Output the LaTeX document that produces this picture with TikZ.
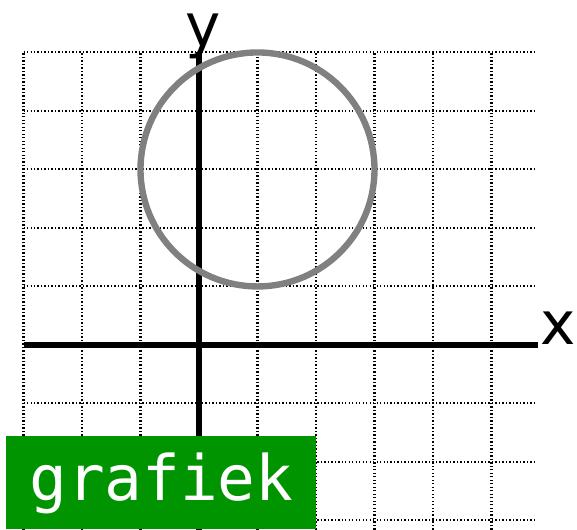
\documentclass[tikz,border=0pt]{standalone}
\usepackage{fontspec}
\usepackage{xcolor}
\usepackage{tikz}
\newfontfamily\axisfont{DejaVu Sans}
\newfontfamily\tagfont{DejaVu Sans Mono}
\definecolor{ringgray}{HTML}{808080}
\definecolor{taggreen}{HTML}{009400}

\begin{document}
\begin{tikzpicture}[
  gridline/.style={line width=1pt,dash pattern=on 0.7pt off 1pt,draw=black},
  axis/.style={line width=2.6pt,draw=black},
  ring/.style={line width=3.1pt,draw=ringgray},
  axislabel/.style={font=\axisfont\fontsize{29}{29}\selectfont,inner sep=0pt,text=black},
  tag/.style={fill=taggreen,text=white,font=\tagfont\fontsize{30.5}{30.5}\selectfont,
    minimum width=5.3cm,minimum height=1.59cm,inner sep=0pt}
]
\useasboundingbox (-3.402,-3.162) rectangle (6.462,5.897);
% grid
\foreach \k in {-3,...,5}
  \draw[gridline] (-3,\k) -- (5.75,\k);
\foreach \k in {-3,...,5}
  \draw[gridline] (\k,-3.162) -- (\k,5);
% axes
\coordinate (origin) at (0,0);
\coordinate (xstart) at (-3,0);
\coordinate (xend) at (5.8,0);
\coordinate (ystart) at (0,-3.162);
\coordinate (yend) at (0,5);
\draw[axis] (xstart) -- (xend);
\draw[axis] (ystart) -- (yend);
\node[axislabel,anchor=base west] (xlabel) at ([xshift=1pt]xend) {x};
\node[axislabel,anchor=south] (ylabel) at ([xshift=2pt,yshift=-3.5pt]yend) {y};
% circle
\coordinate (centre) at (1,3);
\draw[ring] (centre) circle (2);
% label
\node[tag,anchor=south west] (grafiek) at (-3.30,-3.162) {\raisebox{-2pt}{grafiek}};
\end{tikzpicture}
\end{document}
